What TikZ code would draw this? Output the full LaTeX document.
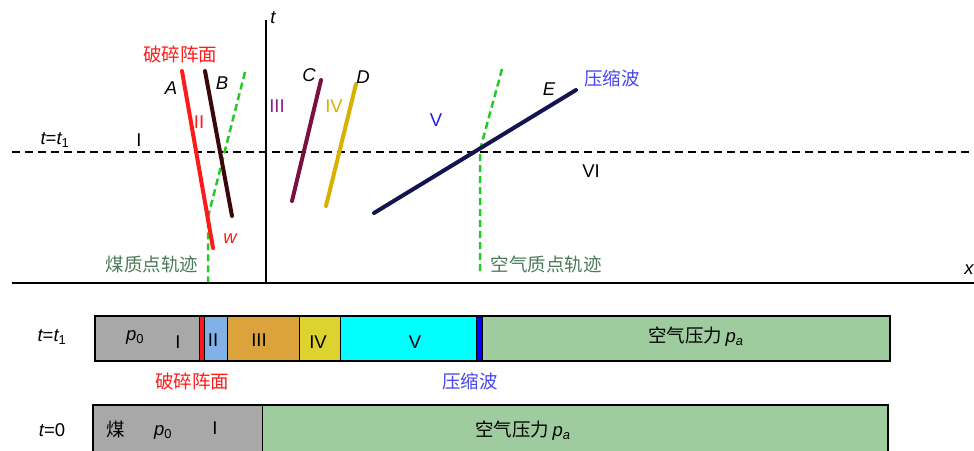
\documentclass[tikz,border=0pt]{standalone}
\usepackage{fontspec}
\setmainfont{Liberation Sans}
\newfontfamily\cjk{Noto Sans CJK SC}
\definecolor{fred}{HTML}{FF1A1A}
\definecolor{bdark}{HTML}{3A0808}
\definecolor{tgreen}{HTML}{22CC22}
\definecolor{cmar}{HTML}{7A1040}
\definecolor{dgold}{HTML}{D8B000}
\definecolor{enavy}{HTML}{141450}
\definecolor{lpurple}{HTML}{8A2090}
\definecolor{lblue}{HTML}{2020E0}
\definecolor{wblue}{HTML}{4545F0}
\definecolor{dgreen}{HTML}{4A7A5A}
\definecolor{cgray}{HTML}{A8A8A8}
\definecolor{cii}{HTML}{80B2E8}
\definecolor{ciii}{HTML}{DCA23C}
\definecolor{civ}{HTML}{DCD230}
\definecolor{cv}{HTML}{00FFFF}
\definecolor{cair}{HTML}{9FCC9F}
\tikzset{
  lbl/.style={inner sep=0pt, font=\fontsize{18.5}{20}\selectfont},
  zh/.style={inner sep=0pt, font=\fontsize{18.5}{20}\selectfont\cjk},
  wave/.style={line width=4pt, line cap=round},
  traj/.style={line width=2.5pt, tgreen, dash pattern=on 7pt off 4pt},
  axis/.style={line width=1.5pt, black},
  seg/.style={draw=black, line width=1.5pt},
}
\begin{document}
\begin{tikzpicture}[x=1pt,y=-1pt]
\useasboundingbox (0,0) rectangle (974,450);
% axes
\coordinate (tb) at (266,283);
\coordinate (tt) at (266,20);
\coordinate (xl) at (12,283);
\coordinate (xr) at (974,283);
\draw[axis] (tb) -- (tt);
\draw[axis] (xl) -- (xr);
\node[lbl] (tlab) at (273,18) {\itshape t};
\node[lbl] (xlab) at (969,270) {\itshape x};
% dashed t=t1
\coordinate (dl) at (12,152);
\coordinate (dr) at (974,152);
\draw[line width=1.5pt, dash pattern=on 8pt off 5pt] (dl) -- (dr);
\node[lbl] (tt1) at (55,140) {{\itshape t}={\itshape t}\textsubscript{1}};
\node[lbl] (rI) at (139,140) {I};
% coal particle trajectory
\coordinate (g1a) at (245,72);
\coordinate (g1b) at (208,217);
\coordinate (g1c) at (208,282);
\draw[traj] (g1a) -- (g1b) -- (g1c);
% A, B lines
\coordinate (Aa) at (182,71);
\coordinate (Ab) at (213,248);
\draw[wave, fred] (Aa) -- (Ab);
\coordinate (Ba) at (205,71);
\coordinate (Bb) at (232,216);
\draw[wave, bdark] (Ba) -- (Bb);
\node[zh, fred] (pslab) at (180,54) {破碎阵面};
\node[lbl] (Alab) at (171,88) {\itshape A};
\node[lbl] (Blab) at (222,83) {\itshape B};
\node[lbl, fred] (rII) at (199,122) {II};
\node[lbl, fred] (wlab) at (230,239) {\itshape w};
\node[zh, dgreen] (coaltr) at (152,264) {煤质点轨迹};
% C, D lines
\coordinate (Ca) at (321,80);
\coordinate (Cb) at (292,201);
\draw[wave, cmar] (Ca) -- (Cb);
\coordinate (Da) at (356,84);
\coordinate (Db) at (326,206);
\draw[wave, dgold] (Da) -- (Db);
\node[lbl] (Clab) at (309,75) {\itshape C};
\node[lbl] (Dlab) at (363,77) {\itshape D};
\node[lbl, lpurple] (rIII) at (277,106) {III};
\node[lbl, dgold] (rIV) at (334,106) {IV};
\node[lbl, lblue] (rV) at (436,120) {V};
% air particle trajectory
\coordinate (g2a) at (502,69);
\coordinate (g2b) at (480,150);
\coordinate (g2c) at (480,275);
\draw[traj] (g2a) -- (g2b) -- (g2c);
% E line
\coordinate (Ea) at (374,213);
\coordinate (Eb) at (576,90);
\draw[wave, enavy] (Ea) -- (Eb);
\node[lbl] (Elab) at (549,89) {\itshape E};
\node[zh, wblue] (cwlab) at (612,78) {压缩波};
\node[lbl] (rVI) at (591,171) {VI};
\node[zh, dgreen] (airtr) at (546,264) {空气质点轨迹};
% bar t=t1
\node[lbl] (bt1) at (52,337) {{\itshape t}={\itshape t}\textsubscript{1}};
\path[fill=cgray] (95,316) rectangle (200,361);
\path[fill=cii] (204,316) rectangle (227,361);
\path[fill=ciii] (227,316) rectangle (299,361);
\path[fill=civ] (299,316) rectangle (340,361);
\path[fill=cv] (340,316) rectangle (476,361);
\path[fill=cair] (482,316) rectangle (890,361);
\draw[line width=1pt] (199.5,316) -- (199.5,361) (204.5,316) -- (204.5,361) (227,316) -- (227,361)
  (299,316) -- (299,361) (340,316) -- (340,361) (476,316) -- (476,361) (482.5,316) -- (482.5,361);
\path[fill=fred] (200,316) rectangle (204,361);
\path[fill=blue] (477,316) rectangle (482,361);
\draw[seg] (95,316) rectangle (890,361);
\node[lbl] (b1p0) at (135,337) {{\itshape p}\textsubscript{0}};
\node[lbl] (b1I) at (178,342) {I};
\node[lbl] (b1II) at (213,340) {II};
\node[lbl] (b1III) at (259,340) {III};
\node[lbl] (b1IV) at (318,342) {IV};
\node[lbl] (b1V) at (415,342) {V};
\node[lbl] (b1air) at (696,337) {{\cjk 空气压力}\,{\itshape p}\textsubscript{\itshape a}};
\node[zh, fred] (b1ps) at (192,381) {破碎阵面};
\node[zh, wblue] (b1cw) at (470,381) {压缩波};
% bar t=0
\node[lbl] (bt0) at (52,430) {{\itshape t}=0};
\path[fill=cgray] (93,405) rectangle (262,460);
\path[fill=cair] (262,405) rectangle (888,460);
\draw[seg] (93,460) -- (93,405) -- (888,405) -- (888,460);
\draw[line width=1pt] (262,405) -- (262,460);
\node[zh] (b0coal) at (116,429) {煤};
\node[lbl] (b0p0) at (163,432) {{\itshape p}\textsubscript{0}};
\node[lbl] (b0I) at (215,428) {I};
\node[lbl] (b0air) at (523,431) {{\cjk 空气压力}\,{\itshape p}\textsubscript{\itshape a}};
\end{tikzpicture}
\end{document}
